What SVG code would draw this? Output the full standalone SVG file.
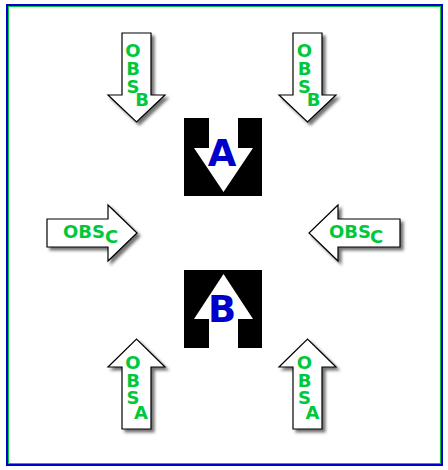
<svg xmlns="http://www.w3.org/2000/svg" width="448" height="470" viewBox="0 0 448 470">
<defs>
<filter id="sh" x="-30%" y="-30%" width="160%" height="160%">
<feDropShadow dx="3" dy="3" stdDeviation="1.8" flood-color="#000" flood-opacity="0.55"/>
</filter>
</defs>
<style>
.arr{fill:#fff;stroke:#000;stroke-width:1.2;stroke-linejoin:miter;filter:url(#sh)}
.lbl{font-family:"DejaVu Sans",Verdana,sans-serif;font-weight:bold;font-size:18px;fill:#00c83c}
.v{text-anchor:middle}
.big{font-family:"DejaVu Sans",Verdana,sans-serif;font-weight:bold;font-size:37px;fill:#0000cc;text-anchor:middle}
</style>
<rect x="0" y="0" width="448" height="470" fill="#fff"/>
<rect x="7" y="5" width="435" height="460" fill="none" stroke="#0000cc" stroke-width="2"/>
<rect x="8.5" y="6.5" width="432" height="457" fill="none" stroke="#00c83c" stroke-width="1"/>

<g id="boxA">
<rect x="184" y="118" width="78" height="78" fill="#000"/>
<polygon points="209,118 238,118 238,148 253,148 223.5,192 194,148 209,148" fill="#fff"/>
<text class="big" x="222" y="166">A</text>
</g>
<g id="boxB">
<rect x="184" y="270" width="78" height="78" fill="#000"/>
<polygon points="209,348 238,348 238,319 253,319 223.5,274 194,319 209,319" fill="#fff"/>
<text class="big" x="222" y="322">B</text>
</g>

<g id="obsB-left">
<polygon class="arr" points="122,33 151,33 151,95 165,95 136.5,122 108,95 122,95"/>
<text class="lbl v"><tspan x="133" y="57">O</tspan><tspan x="133" y="75">B</tspan><tspan x="133" y="93">S</tspan><tspan x="142" y="106">B</tspan></text>
</g>
<g id="obsB-right">
<polygon class="arr" points="293,33 322,33 322,95 336,95 307.5,122 279,95 293,95"/>
<text class="lbl v"><tspan x="304.5" y="57">O</tspan><tspan x="304.5" y="75">B</tspan><tspan x="304.5" y="93">S</tspan><tspan x="313.5" y="106">B</tspan></text>
</g>
<g id="obsC-left">
<polygon class="arr" points="47,219 108,219 108,205 137,233 108,261 108,247 47,247"/>
<text class="lbl" x="63" y="238">OBS<tspan x="105" y="243">C</tspan></text>
</g>
<g id="obsC-right">
<polygon class="arr" points="400,219 338,219 338,205 309,233 338,261 338,247 400,247"/>
<text class="lbl" x="329" y="238">OBS<tspan x="370" y="243">C</tspan></text>
</g>
<g id="obsA-left">
<polygon class="arr" points="122,429 151,429 151,367 165,367 136.5,339 108,367 122,367"/>
<text class="lbl v"><tspan x="133" y="369">O</tspan><tspan x="133" y="387">B</tspan><tspan x="133" y="404">S</tspan><tspan x="141" y="419">A</tspan></text>
</g>
<g id="obsA-right">
<polygon class="arr" points="293,429 322,429 322,367 336,367 307.5,339 279,367 293,367"/>
<text class="lbl v"><tspan x="304.5" y="369">O</tspan><tspan x="304.5" y="387">B</tspan><tspan x="304.5" y="404">S</tspan><tspan x="312.5" y="419">A</tspan></text>
</g>
<g id="connectors"/>
</svg>
